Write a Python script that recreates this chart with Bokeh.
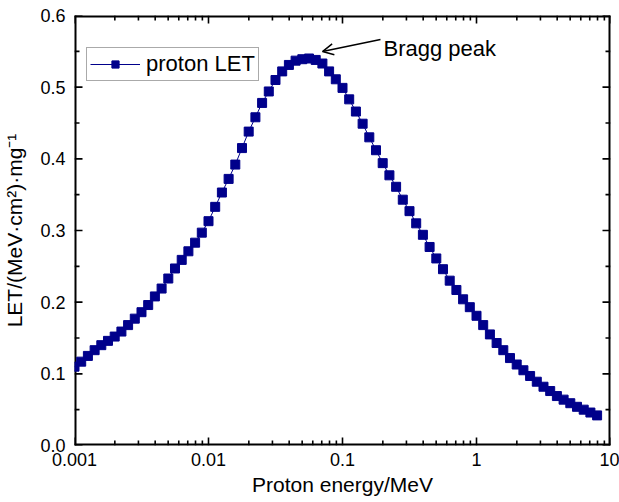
from bokeh.plotting import figure
from bokeh.models import (Range1d, FixedTicker, CustomJSTickFormatter,
                          Legend, LegendItem, Arrow, OpenHead, Label)
from bokeh.embed import file_html
from bokeh.resources import INLINE

# ---- data ----
energy_mev = [
    0.001000, 0.001122, 0.001259, 0.001413, 0.001585, 0.001778, 0.001995, 0.002239, 0.002512, 0.002818,
    0.003162, 0.003548, 0.003981, 0.004467, 0.005012, 0.005623, 0.006310, 0.007079, 0.007943, 0.008913,
    0.01000, 0.01122, 0.01259, 0.01413, 0.01585, 0.01778, 0.01995, 0.02239, 0.02512, 0.02818,
    0.03162, 0.03548, 0.03981, 0.04467, 0.05012, 0.05623, 0.06310, 0.07079, 0.07943, 0.08913,
    0.1000, 0.1122, 0.1259, 0.1413, 0.1585, 0.1778, 0.1995, 0.2239, 0.2512, 0.2818,
    0.3162, 0.3548, 0.3981, 0.4467, 0.5012, 0.5623, 0.6310, 0.7079, 0.7943, 0.8913,
    1.000, 1.122, 1.259, 1.413, 1.585, 1.778, 1.995, 2.239, 2.512, 2.818,
    3.162, 3.548, 3.981, 4.467, 5.012, 5.623, 6.310, 7.079, 7.943,
]
let_values = [
    0.110, 0.117, 0.125, 0.133, 0.140, 0.146, 0.152, 0.159, 0.168, 0.177,
    0.186, 0.196, 0.208, 0.219, 0.233, 0.247, 0.259, 0.271, 0.283, 0.297,
    0.313, 0.333, 0.353, 0.372, 0.392, 0.415, 0.438, 0.458, 0.478, 0.494,
    0.510, 0.522, 0.531, 0.537, 0.539, 0.540, 0.538, 0.533, 0.522, 0.511,
    0.499, 0.483, 0.466, 0.449, 0.430, 0.412, 0.394, 0.377, 0.361, 0.343,
    0.327, 0.310, 0.294, 0.277, 0.261, 0.246, 0.230, 0.217, 0.204, 0.193,
    0.181, 0.168, 0.155, 0.143, 0.133, 0.122, 0.113, 0.105, 0.097, 0.089,
    0.082, 0.076, 0.069, 0.064, 0.059, 0.054, 0.050, 0.046, 0.042,
]
series_label = "proton LET"
x_ticks = [0.001, 0.01, 0.1, 1, 10]
x_minor_ticks = [0.002, 0.003, 0.004, 0.005, 0.006, 0.007, 0.008, 0.009,
                 0.02, 0.03, 0.04, 0.05, 0.06, 0.07, 0.08, 0.09,
                 0.2, 0.3, 0.4, 0.5, 0.6, 0.7, 0.8, 0.9,
                 2, 3, 4, 5, 6, 7, 8, 9]
y_ticks = [0.0, 0.1, 0.2, 0.3, 0.4, 0.5, 0.6]
y_minor_ticks = [0.05, 0.15, 0.25, 0.35, 0.45, 0.55]
x_title = "Proton energy/MeV"
y_title = "LET/(MeV·cm²)·mg⁻¹"
annotation_text = "Bragg peak"
annotation_pos = (0.2023, 0.5534)
arrow_from = (0.1921, 0.5664)
arrow_to = (0.0709, 0.5497)

FONT = "Liberation Sans"
NAVY = "#00008B"
X_MIN, X_MAX = 0.001, 10
Y_MIN, Y_MAX = 0.0, 0.6
FRAME_W, FRAME_H = 536, 430
MAJ_PX, MIN_PX = 8, 5

p = figure(width=619, height=502, x_axis_type="log",
           x_range=Range1d(X_MIN, X_MAX), y_range=Range1d(Y_MIN, Y_MAX),
           output_backend="svg", toolbar_location=None,
           min_border_left=74, min_border_right=9, min_border_top=15, min_border_bottom=57)
p.grid.visible = False
p.outline_line_color = None
p.background_fill_color = "white"
p.border_fill_color = "white"

# conversion of tick lengths (screen px) to data units along each axis
y_per_px = (Y_MAX - Y_MIN) / FRAME_H
x_fac_per_px = (X_MAX / X_MIN) ** (1.0 / FRAME_W)
ymaj, ymin = MAJ_PX * y_per_px, MIN_PX * y_per_px
xmaj, xmin = x_fac_per_px ** MAJ_PX, x_fac_per_px ** MIN_PX

tk = dict(line_color="black", line_width=1.6)
# bottom / top ticks
p.segment(x0=x_ticks, y0=[Y_MIN] * 5, x1=x_ticks, y1=[Y_MIN + ymaj] * 5, **tk)
p.segment(x0=x_minor_ticks, y0=[Y_MIN] * len(x_minor_ticks), x1=x_minor_ticks,
          y1=[Y_MIN + ymin] * len(x_minor_ticks), **tk)
p.segment(x0=x_ticks, y0=[Y_MAX] * 5, x1=x_ticks, y1=[Y_MAX - ymaj] * 5, **tk)
p.segment(x0=x_minor_ticks, y0=[Y_MAX] * len(x_minor_ticks), x1=x_minor_ticks,
          y1=[Y_MAX - ymin] * len(x_minor_ticks), **tk)
# left / right ticks
p.segment(x0=[X_MIN] * len(y_ticks), y0=y_ticks, x1=[X_MIN * xmaj] * len(y_ticks), y1=y_ticks, **tk)
p.segment(x0=[X_MIN] * len(y_minor_ticks), y0=y_minor_ticks,
          x1=[X_MIN * xmin] * len(y_minor_ticks), y1=y_minor_ticks, **tk)
p.segment(x0=[X_MAX] * len(y_ticks), y0=y_ticks, x1=[X_MAX / xmaj] * len(y_ticks), y1=y_ticks, **tk)
p.segment(x0=[X_MAX] * len(y_minor_ticks), y0=y_minor_ticks,
          x1=[X_MAX / xmin] * len(y_minor_ticks), y1=y_minor_ticks, **tk)
# frame box (half of the width lies inside the frame)
p.segment(x0=[X_MIN, X_MIN, X_MIN, X_MAX], y0=[Y_MIN, Y_MAX, Y_MIN, Y_MIN],
          x1=[X_MAX, X_MAX, X_MIN, X_MAX], y1=[Y_MIN, Y_MAX, Y_MAX, Y_MAX],
          line_color="black", line_width=4)

r_line = p.line(energy_mev, let_values, line_color=NAVY, line_width=1)
r_pts = p.scatter(energy_mev, let_values, marker="square", size=9,
                  fill_color=NAVY, line_color=NAVY)


def style_axis(ax, ticks, minor, code):
    ax.ticker = FixedTicker(ticks=ticks, minor_ticks=minor)
    ax.formatter = CustomJSTickFormatter(code=code)
    ax.axis_line_color = None
    ax.major_tick_line_color = None
    ax.minor_tick_line_color = None
    ax.major_tick_in = 0
    ax.major_tick_out = 0
    ax.minor_tick_in = 0
    ax.minor_tick_out = 0
    ax.major_label_text_font = FONT
    ax.major_label_text_font_size = "18px"
    ax.major_label_text_color = "black"


xa = p.xaxis[0]
style_axis(xa, x_ticks, x_minor_ticks, "return tick.toString();")
xa.major_label_standoff = 7
xa.axis_label = x_title
xa.axis_label_text_font = FONT
xa.axis_label_text_font_size = "21px"
xa.axis_label_text_font_style = "normal"
xa.axis_label_text_color = "black"
xa.axis_label_standoff = 4

ya = p.yaxis[0]
style_axis(ya, y_ticks, y_minor_ticks, "return tick.toFixed(1);")
ya.major_label_standoff = 9
ya.axis_label = y_title
ya.axis_label_text_font = FONT
ya.axis_label_text_font_size = "21px"
ya.axis_label_text_font_style = "normal"
ya.axis_label_text_color = "black"
ya.axis_label_standoff = 11

legend = Legend(items=[LegendItem(label=series_label, renderers=[r_line, r_pts])],
                location=(12, 364))
legend.label_text_font = FONT
legend.label_text_font_size = "22px"
legend.label_text_color = "black"
legend.glyph_width = 50
legend.glyph_height = 18
legend.label_height = 18
legend.label_standoff = 6
legend.padding = 3
legend.margin = 0
legend.border_line_color = "#555555"
legend.border_line_width = 1
legend.background_fill_color = "white"
legend.background_fill_alpha = 1
p.add_layout(legend)

p.add_layout(Arrow(end=OpenHead(size=11, line_width=1.5, line_color="black"),
                   x_start=arrow_from[0], y_start=arrow_from[1],
                   x_end=arrow_to[0], y_end=arrow_to[1],
                   line_width=1.5, line_color="black"))
p.add_layout(Label(x=annotation_pos[0], y=annotation_pos[1], text=annotation_text,
                   text_font=FONT, text_font_size="22px", text_color="black",
                   text_baseline="alphabetic", text_align="left"))

open("out.html", "w").write(file_html(p, INLINE))
